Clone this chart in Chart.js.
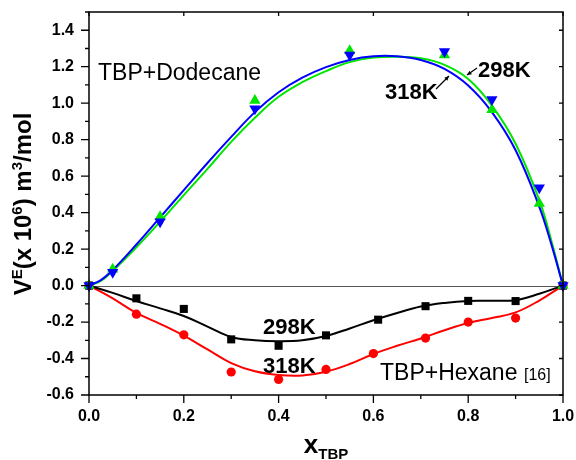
<!DOCTYPE html>
<html>
<head>
<meta charset="utf-8">
<script src="https://cdn.jsdelivr.net/npm/chart.js@4/dist/chart.umd.min.js"></script>
<style>
html,body{margin:0;padding:0;background:#fff;}
canvas{display:block;}
</style>
</head>
<body>
<canvas id="c" width="576" height="460"></canvas>
<script>
// ---- data ----
const xDodecane = [0, 0.05, 0.15, 0.35, 0.55, 0.75, 0.85, 0.95, 1.0];
const dodecane298 = [0, 0.09, 0.377, 1.015, 1.288, 1.264, 0.964, 0.45, 0];
const dodecane318 = [0, 0.073, 0.35, 0.97, 1.264, 1.284, 1.02, 0.536, 0];

const xHexane298 = [0, 0.1, 0.2, 0.3, 0.4, 0.5, 0.61, 0.71, 0.8, 0.9, 1.0];
const hexane298 = [0, -0.07, -0.128, -0.295, -0.33, -0.273, -0.187, -0.113, -0.084, -0.085, 0];
const xHexane318 = [0, 0.1, 0.2, 0.3, 0.4, 0.5, 0.6, 0.71, 0.8, 0.9, 1.0];
const hexane318 = [0, -0.157, -0.27, -0.474, -0.515, -0.46, -0.373, -0.288, -0.20, -0.178, 0];

// fitted curves
const xFitDodecane = [0, 0.025, 0.05, 0.1, 0.15, 0.2, 0.25, 0.3, 0.35, 0.4, 0.45, 0.5, 0.55, 0.6, 0.65, 0.7, 0.75, 0.8, 0.85, 0.9, 0.95, 0.975, 1.0];
const fitDodecane298 = [0, 0.025, 0.08, 0.21, 0.35, 0.496, 0.64, 0.788, 0.92, 1.035, 1.115, 1.176, 1.225, 1.25, 1.255, 1.246, 1.21, 1.133, 0.987, 0.778, 0.468, 0.25, 0];
const fitDodecane318 = [0, 0.03, 0.085, 0.225, 0.374, 0.523, 0.672, 0.815, 0.951, 1.06, 1.14, 1.198, 1.237, 1.257, 1.257, 1.237, 1.188, 1.097, 0.951, 0.742, 0.432, 0.23, 0];

const xFitHexane = [0, 0.05, 0.1, 0.15, 0.2, 0.25, 0.3, 0.35, 0.4, 0.45, 0.5, 0.55, 0.6, 0.65, 0.7, 0.75, 0.8, 0.85, 0.9, 0.95, 1.0];
const fitHexane298 = [0, -0.04, -0.085, -0.125, -0.167, -0.225, -0.282, -0.3, -0.305, -0.3, -0.277, -0.235, -0.19, -0.15, -0.115, -0.095, -0.084, -0.083, -0.08, -0.045, 0];
const fitHexane318 = [0, -0.07, -0.15, -0.21, -0.275, -0.35, -0.425, -0.47, -0.49, -0.493, -0.472, -0.43, -0.375, -0.33, -0.29, -0.245, -0.205, -0.178, -0.147, -0.082, 0];

const xTickValues = [0, 0.2, 0.4, 0.6, 0.8, 1.0];
const yTickValues = [-0.6, -0.4, -0.2, 0.0, 0.2, 0.4, 0.6, 0.8, 1.0, 1.2, 1.4];

const FONT = '"Liberation Sans", Arial, Helvetica, sans-serif';

function pts(xs, ys) { return xs.map((x, i) => ({x: x, y: ys[i]})); }

function markerSet(label, xs, ys, color, style, radius, rotation, order) {
  return {
    label: label, data: pts(xs, ys), showLine: false,
    pointStyle: style, pointRadius: radius, pointHoverRadius: radius,
    pointRotation: rotation, pointBackgroundColor: color, pointBorderColor: color,
    pointBorderWidth: 0, clip: false, order: order
  };
}
function curveSet(label, xs, ys, color, order) {
  return {
    label: label, data: pts(xs, ys), showLine: true, borderColor: color,
    borderWidth: 2, pointRadius: 0, pointHoverRadius: 0, tension: 0.4,
    fill: false, clip: false, order: order
  };
}

const decorPlugin = {
  id: 'decor',
  beforeDatasetsDraw(chart) {
    const ctx = chart.ctx, xs = chart.scales.x, ys = chart.scales.y, a = chart.chartArea;
    ctx.save();
    ctx.strokeStyle = '#555';
    ctx.lineWidth = 1;
    const y0 = Math.round(ys.getPixelForValue(0)) + 0.5;
    ctx.beginPath(); ctx.moveTo(a.left, y0); ctx.lineTo(a.right, y0); ctx.stroke();
    ctx.restore();
  },
  afterDatasetsDraw(chart) {
    const ctx = chart.ctx, xs = chart.scales.x, ys = chart.scales.y, a = chart.chartArea;
    ctx.save();
    ctx.strokeStyle = '#000';
    ctx.lineWidth = 1.5;
    ctx.strokeRect(a.left, a.top, a.right - a.left, a.bottom - a.top);
    ctx.lineWidth = 1.3;
    ctx.beginPath();
    for (let k = -6; k <= 15; k++) {
      const v = k / 10;
      const py = ys.getPixelForValue(v);
      const major = (k % 2 === 0);
      const L = major ? 8 : 4;
      ctx.moveTo(a.left - L, py); ctx.lineTo(a.left, py);
      if (major) { ctx.moveTo(a.right, py); ctx.lineTo(a.right - 4, py); }
    }
    for (let k = 0; k <= 10; k++) {
      const v = k / 10;
      const px = xs.getPixelForValue(v);
      const major = (k % 2 === 0);
      const L = major ? 8 : 4;
      ctx.moveTo(px, a.bottom); ctx.lineTo(px, a.bottom + L);
      if (major) { ctx.moveTo(px, a.top); ctx.lineTo(px, a.top + 4); }
    }
    ctx.stroke();
    ctx.restore();
  },
  afterDraw(chart) {
    const ctx = chart.ctx;
    ctx.save();
    ctx.fillStyle = '#000';
    ctx.textBaseline = 'alphabetic';
    ctx.textAlign = 'left';
    ctx.font = '23px ' + FONT;
    ctx.fillText('TBP+Dodecane', 98, 80);
    ctx.fillText('TBP+Hexane', 380, 380);
    ctx.font = '16px ' + FONT;
    ctx.fillText('[16]', 524, 380);
    ctx.font = 'bold 22px ' + FONT;
    ctx.fillText('298K', 478, 77);
    ctx.fillText('318K', 385, 99);
    ctx.fillText('298K', 263, 334);
    ctx.fillText('318K', 263, 373);

    function arrow(x1, y1, x2, y2) {
      ctx.strokeStyle = '#000'; ctx.lineWidth = 1.2;
      ctx.beginPath(); ctx.moveTo(x1, y1); ctx.lineTo(x2, y2); ctx.stroke();
      const ang = Math.atan2(y2 - y1, x2 - x1), h = 5;
      ctx.beginPath();
      ctx.moveTo(x2, y2);
      ctx.lineTo(x2 - h * Math.cos(ang - 0.45), y2 - h * Math.sin(ang - 0.45));
      ctx.lineTo(x2 - h * Math.cos(ang + 0.45), y2 - h * Math.sin(ang + 0.45));
      ctx.closePath(); ctx.fill();
    }
    arrow(477, 68, 467, 75);
    arrow(436, 89, 449, 76);

    function rich(segs, x, y, align) {
      let w = 0;
      segs.forEach(s => { ctx.font = s.f; s.w = ctx.measureText(s.t).width; w += s.w; });
      let cx = align === 'center' ? x - w / 2 : x;
      segs.forEach(s => { ctx.font = s.f; ctx.fillText(s.t, cx, y + (s.dy || 0)); cx += s.w; });
    }
    rich([
      {t: 'x', f: 'bold 26px ' + FONT},
      {t: 'TBP', f: 'bold 15px ' + FONT, dy: 6}
    ], 326, 453, 'center');
    ctx.translate(31, 204);
    ctx.rotate(-Math.PI / 2);
    const B = 'bold 24px ' + FONT, S = 'bold 15px ' + FONT;
    rich([
      {t: 'V', f: B}, {t: 'E', f: S, dy: -9},
      {t: '(x 10', f: B}, {t: '6', f: S, dy: -9},
      {t: ') m', f: B}, {t: '3', f: S, dy: -9},
      {t: '/mol', f: B}
    ], 0, 0, 'center');
    ctx.restore();
  }
};

new Chart(document.getElementById('c'), {
  type: 'scatter',
  data: {
    datasets: [
      markerSet('318K dodecane', xDodecane, dodecane318, '#0000ff', 'triangle', 6.5, 180, 1),
      markerSet('298K dodecane', xDodecane, dodecane298, '#00e600', 'triangle', 6.5, 0, 2),
      markerSet('298K hexane', xHexane298, hexane298, '#000000', 'rect', 5.7, 0, 3),
      markerSet('318K hexane', xHexane318, hexane318, '#ff0000', 'circle', 4.6, 0, 4),
      curveSet('fit 318K dodecane', xFitDodecane, fitDodecane318, '#0000ff', 5),
      curveSet('fit 298K dodecane', xFitDodecane, fitDodecane298, '#00e600', 6),
      curveSet('fit 298K hexane', xFitHexane, fitHexane298, '#000000', 7),
      curveSet('fit 318K hexane', xFitHexane, fitHexane318, '#ff0000', 8)
    ]
  },
  options: {
    responsive: false,
    animation: false,
    devicePixelRatio: 1,
    layout: {autoPadding: false, padding: {left: 0, right: 13, top: 12, bottom: 0}},
    plugins: {legend: {display: false}, tooltip: {enabled: false}},
    scales: {
      x: {
        type: 'linear', min: 0, max: 1,
        grid: {display: false, drawTicks: false},
        border: {display: false},
        afterFit(s) { s.height = 65; s.paddingLeft = 0; s.paddingRight = 0; },
        afterBuildTicks(s) { s.ticks = xTickValues.map(v => ({value: v})); },
        ticks: {
          padding: 12, color: '#000', maxRotation: 0, autoSkip: false,
          font: {family: FONT, size: 16, weight: 'bold'},
          callback: v => Number(v).toFixed(1)
        }
      },
      y: {
        type: 'linear', min: -0.6, max: 1.5,
        grid: {display: false, drawTicks: false},
        border: {display: false},
        afterFit(s) { s.width = 89; s.paddingTop = 0; s.paddingBottom = 0; },
        afterBuildTicks(s) { s.ticks = yTickValues.map(v => ({value: v})); },
        ticks: {
          padding: 15, color: '#000', autoSkip: false,
          font: {family: FONT, size: 16, weight: 'bold'},
          callback: v => Number(v).toFixed(1)
        }
      }
    }
  },
  plugins: [decorPlugin]
});
</script>
</body>
</html>
